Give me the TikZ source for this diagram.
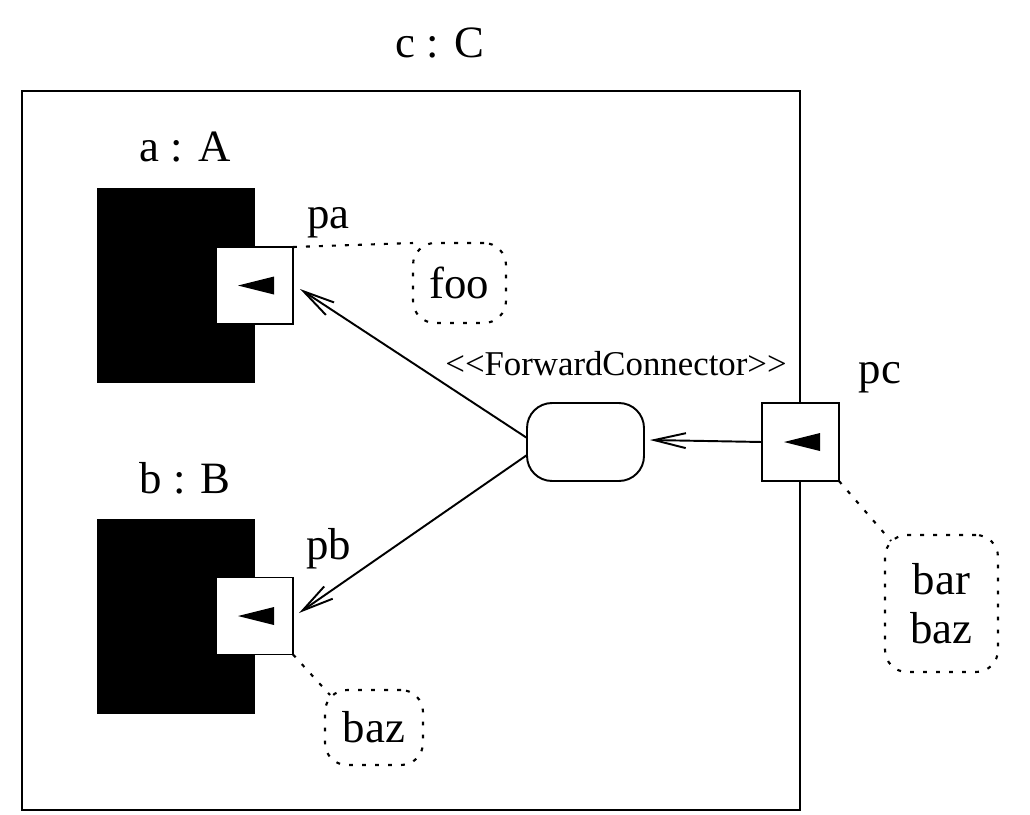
\documentclass[tikz,border=0pt]{standalone}
\usepackage{fontspec}
\setmainfont{Liberation Serif}
\usetikzlibrary{arrows.meta,calc}
\begin{document}
\begin{tikzpicture}[x=0.02cm,y=-0.02cm,
  big/.style={font=\fontsize{25.5}{28}\selectfont},
  label/.style={big,anchor=base,inner sep=0pt},
  block/.style={fill=black,draw=none,inner sep=0pt,outer sep=0pt},
  port/.style={draw,fill=white,line width=1.1pt,inner sep=0pt,outer sep=0pt,minimum width=1.54cm,minimum height=1.54cm},
  conn/.style={draw,line width=1.1pt,rounded corners=0.5cm,inner sep=0pt,outer sep=0pt,minimum width=2.34cm,minimum height=1.56cm},
  note/.style={big,draw,line width=1.2pt,dash pattern=on 2.2pt off 5.2pt,rounded corners=0.44cm,inner sep=0pt,outer sep=0pt,align=center},
  noteline/.style={line width=1.2pt,dash pattern=on 2.2pt off 5.2pt},
  link/.style={line width=1.1pt,-{Straight Barb[length=18pt,width=8.5pt,line width=1.1pt]}}
]
\useasboundingbox (0,0) rectangle (1030,814);
% outer component
\node[draw,line width=1.1pt,inner sep=0pt,outer sep=0pt,minimum width=15.56cm,minimum height=14.38cm] (c) at (411,450.5) {};
\node[label] (ctitle) at (440,58) {c : C};
% parts
\node[block,minimum width=3.16cm,minimum height=3.9cm] (a) at (176,285.5) {};
\node[block,minimum width=3.16cm,minimum height=3.9cm] (b) at (176,616.5) {};
\node[label] (atitle) at (185,162) {a : A};
\node[label] (btitle) at (185,493) {b : B};
% ports
\node[port] (pa) at (254.5,285.5) {};
\node[port] (pb) at (254.5,616) {};
\node[port,minimum height=1.56cm] (pc) at (800.5,442) {};
\node[label] (palabel) at (328.5,228) {pa};
\node[label] (pblabel) at (328.5,559) {pb};
\node[label] (pclabel) at (880,383) {pc};
% direction triangles
\fill ($(pa.center)+(-16.5,0)$) -- ++(36,-9) -- ++(0,18) -- cycle;
\fill ($(pb.center)+(-16.5,0)$) -- ++(36,-9) -- ++(0,18) -- cycle;
\fill ($(pc.center)+(-16.5,0)$) -- ++(36,-9) -- ++(0,18) -- cycle;
% connector
\node[conn] (fc) at (585.5,442) {};
\node[anchor=base,inner sep=0pt,font=\fontsize{19.8}{22}\selectfont] (stereo) at (616,375) {<{}<ForwardConnector>{}>};
% links
\draw[link] ($(fc.west)+(0,-4)$) -- ($(pa.east)+(7,3.5)$);
\draw[link] ($(fc.west)+(0,13)$) -- ($(pb.east)+(6,-3)$);
\draw[link] (pc.west) -- ($(fc.east)+(6,-2)$);
% notes
\node[note,minimum width=1.86cm,minimum height=1.6cm] (foo) at (459.5,283) {foo};
\node[note,minimum width=1.96cm,minimum height=1.5cm] (baz) at (374,727.5) {baz};
\node[note,minimum width=2.26cm,minimum height=2.74cm] (barbaz) at (941.5,603.5) {bar\\baz};
\draw[noteline] (pa.north east) -- (foo.north west);
\draw[noteline] (pb.south east) -- ($(baz.north west)+(5,5)$);
\draw[noteline] (pc.south east) -- ($(barbaz.north west)+(6,6)$);
\end{tikzpicture}
\end{document}
